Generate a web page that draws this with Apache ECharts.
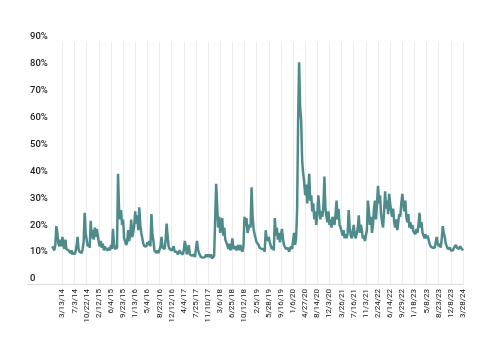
<!DOCTYPE html>
<html>
<head>
<meta charset="utf-8">
<script src="https://cdn.jsdelivr.net/npm/echarts@6/dist/echarts.min.js"></script>
<style>
html,body{margin:0;padding:0;background:#fff;}
#chart{width:500px;height:362px;}
</style>
</head>
<body>
<div id="chart"></div>
<script>
// Tick labels shown on the horizontal axis
const tickLabels = ['3/13/14','7/3/14','10/22/14','2/12/15','6/4/15','9/23/15','1/13/16','5/4/16','8/23/16','12/12/16','4/4/17','7/25/17','11/10/17','3/6/18','6/25/18','10/12/18','2/5/19','5/28/19','9/16/19','1/6/20','4/27/20','8/14/20','12/3/20','3/26/21','7/16/21','11/3/21','2/24/22','6/14/22','9/29/22','1/18/23','5/8/23','8/23/23','12/8/23','3/28/24'];

// Volatility values in percent, 12 readings between consecutive tick labels
const volatility = [
14,13.5,12.5,14.5,21.5,19,15,14,16.5,14,
17.5,14.5,13,16.5,13,13.5,12.5,12,11.5,12.5,11,11.8,
11,12,14,17.5,13,12,12.5,11.5,13,15.5,26.5,19,
16.5,14,15,13.5,23.5,17,20,16.5,21,17.5,20.5,18,
15.5,14,16,13.5,15,12.5,14,13,13.5,12.5,13.5,12.5,
14.5,13,20.5,15,13,12.5,13.5,41,28,24,27.5,22,
24,17,16,14.5,15.5,20,16,18,24,17.5,19,22,
27,22.5,25.5,20,28.5,22,19,17,15,14,13.5,14,
15.5,14.5,16,14,26,18.5,16,12.5,12,11.5,12.5,11.5,
12,14,17.5,13.5,14,13,16,22.5,18,14,13,12.5,
12.5,13,14,12,11.5,12,11,11.5,12.5,11.5,12,11,
12.5,16,14,11,10.5,14.5,11,10.5,10.5,10.2,11,10,
10,16,13,11.5,11,10,10.5,9.8,9.5,10,11,10,
11,11.5,10,11,9.5,10,10.5,11,37.3,29,21,25,
19,23,24.5,18,21,16.5,17,14.5,13,15,12.5,13.5,
17,13,12.5,14,12.5,13,14.5,12.5,14.5,13,12,14,
25,21.5,24.5,19,20.5,22,21,36,25,20.5,18.5,17,
15.5,16,14.5,13.5,14,13,12.5,13,12,20,16,15.5,
17.5,15.5,15,13,14,12.5,24.5,18,21,16.5,19,15.5,
15,20.5,17,14.5,15,13,12.5,13.5,12,12.5,14,13,
13.5,19,14.5,17,27,60,82.5,66,61,46,41,38,
33,37,30,34,41,31,33,27,30,24,27,22,
26,33,28,24,27,25,29,40,28,25,23,27,
22,24,21,25,23,22,26,31,24,28,22,21,
19.5,18,20,17,18.5,17,19,27.5,21,18,17,16.5,
22,18,17,19,21,25.5,19,22,20,17,18,16,
16,20,31,27,22,25,19,22,28,31,24,30,
36.5,30,33,26,23,21,27,34.5,28,31,26,33.5,
30,27,25,28,23,21,24,20,23,26,25,30,
33.5,30,27,31,25,23,26,21,23,20.5,22,19.5,
20,18.5,20.5,19,22,26.5,21,23,19,18,17,18.5,
17,18,16.5,15,14,14.5,13.5,14,13.5,13.5,17.5,15,
14,15,13.5,17,21.5,19,17.5,15,14,13,12.5,13.5,
12.5,13,12.5,13.5,13,14.5,13.5,14,13,14,13.5,13,
12.5
];

const LEAD = 24;        // empty axis slots before the series begins
const FIRST_TICK = 34;  // slot of the first tick label
const STEP = 12;        // slots between tick labels

const total = LEAD + volatility.length;
const categories = [];
const seriesData = [];
for (let i = 0; i < total; i++) {
  const k = (i - FIRST_TICK) / STEP;
  categories.push(Number.isInteger(k) && k >= 0 && k < tickLabels.length ? tickLabels[k] : ' ' + i);
  seriesData.push(i < LEAD ? null : volatility[i - LEAD]);
}
const isTick = (idx) => idx >= FIRST_TICK && (idx - FIRST_TICK) % STEP === 0;

const chart = echarts.init(document.getElementById('chart'), null, {renderer: 'canvas'});
chart.setOption({
  animation: false,
  backgroundColor: '#ffffff',
  grid: {left: 28, right: 37, top: 42, bottom: 78, containLabel: false},
  xAxis: {
    type: 'category',
    data: categories,
    boundaryGap: false,
    axisLine: {show: true, lineStyle: {color: '#dcdcdc', width: 1}},
    axisTick: {show: false},
    axisLabel: {
      interval: isTick,
      rotate: 90,
      margin: 5,
      fontFamily: 'Roboto',
      fontSize: 8,
      color: '#111',
      formatter: (v) => v.charAt(0) === ' ' ? '' : v
    },
    splitLine: {show: true, interval: isTick, lineStyle: {color: '#ececec', width: 1}}
  },
  yAxis: {
    type: 'value',
    min: 0,
    max: 90,
    interval: 10,
    axisLine: {show: false},
    axisTick: {show: false},
    splitLine: {show: false},
    axisLabel: {
      inside: true,
      margin: 2,
      align: 'left',
      verticalAlign: 'bottom',
      fontFamily: 'Roboto',
      fontSize: 9.5,
      fontWeight: 500,
      color: '#222',
      formatter: (v) => v === 0 ? '0' : v + '%'
    }
  },
  series: [{
    type: 'line',
    data: seriesData,
    showSymbol: false,
    connectNulls: false,
    lineStyle: {color: '#4f8b8b', width: 2.5},
    itemStyle: {color: '#4f8b8b'}
  }]
});
</script>
</body>
</html>
